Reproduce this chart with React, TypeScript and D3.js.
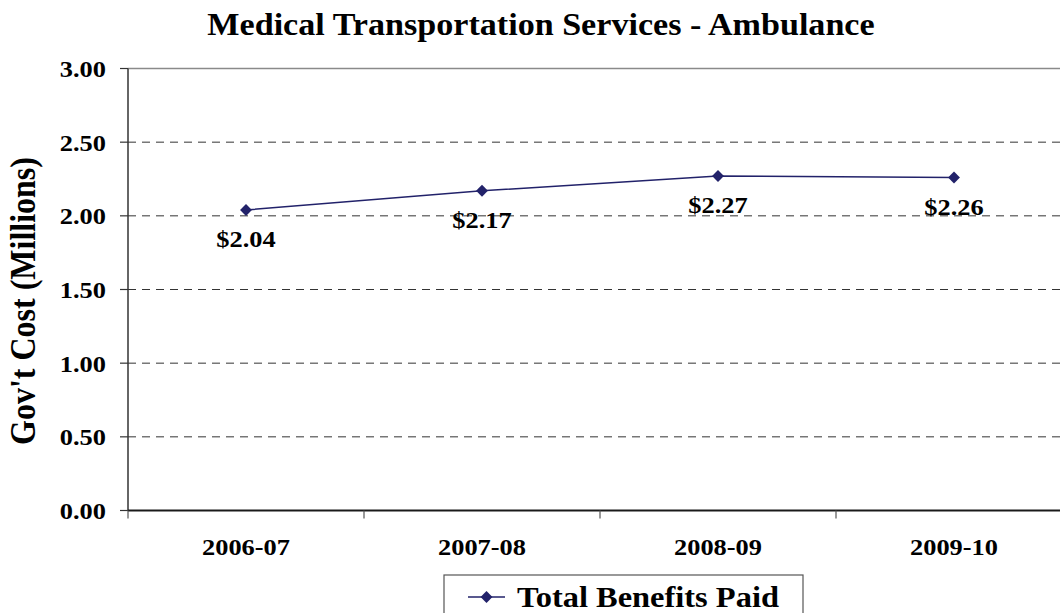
import React, { useRef, useEffect } from "react";
import * as d3 from "d3";

const categories = ["2006-07", "2007-08", "2008-09", "2009-10"];
const benefitsPaid = [2.04, 2.17, 2.27, 2.26];
const yTicks = [0, 0.5, 1, 1.5, 2, 2.5, 3];

const title = "Medical Transportation Services - Ambulance";
const yTitle = "Gov't Cost (Millions)";
const seriesName = "Total Benefits Paid";

const FONT = "'Liberation Serif', 'Times New Roman', serif";
// the original picture is stretched sideways a little
const K = 1.1;
const LINE = "#22226a";

const App = () => {
  const svgRef = useRef<SVGSVGElement>(null);

  useEffect(() => {
    if (!svgRef.current) return;
    const svg = d3.select(svgRef.current);
    svg.selectAll("*").remove();

    const left = 128;
    const top = 68.5;
    const bottom = 510.5;

    const x = d3.scaleBand().domain(categories).range([left, 1072]);
    const y = d3.scaleLinear().domain([0, 3]).range([bottom, top]);

    const text = (
      g: d3.Selection<SVGGElement, unknown, null, undefined>,
      tx: number,
      ty: number,
      str: string,
      size: number,
      anchor: string,
      rot = 0
    ) =>
      g
        .append("text")
        .attr("transform", `translate(${tx},${ty}) scale(${K},1) rotate(${rot})`)
        .attr("text-anchor", anchor)
        .style("font-family", FONT)
        .style("font-weight", "bold")
        .style("font-size", `${size}px`)
        .attr("fill", "#000")
        .text(str);

    const root = svg.append("g");

    // title
    text(root, 541, 35, title, 31, "middle");

    // gridlines
    root
      .selectAll(".grid")
      .data(yTicks.filter((t) => t > 0 && t < 3))
      .enter()
      .append("line")
      .attr("x1", left)
      .attr("x2", 1060)
      .attr("y1", (d) => y(d))
      .attr("y2", (d) => y(d))
      .attr("stroke", "#333")
      .attr("stroke-width", 1)
      .attr("stroke-dasharray", "8,6");

    // top border
    root
      .append("line")
      .attr("x1", left)
      .attr("x2", 1060)
      .attr("y1", y(3))
      .attr("y2", y(3))
      .attr("stroke", "#8a8a8a")
      .attr("stroke-width", 1.5);

    // y axis
    root
      .append("line")
      .attr("x1", left)
      .attr("x2", left)
      .attr("y1", y(3))
      .attr("y2", y(0))
      .attr("stroke", "#333")
      .attr("stroke-width", 1.5);

    yTicks.forEach((t) => {
      root
        .append("line")
        .attr("x1", left - 8)
        .attr("x2", left)
        .attr("y1", y(t))
        .attr("y2", y(t))
        .attr("stroke", "#333")
        .attr("stroke-width", 1.2);
      text(root, 106, y(t) + 8.5, d3.format(".2f")(t), 24, "end");
    });

    // x axis
    root
      .append("line")
      .attr("x1", left)
      .attr("x2", 1060)
      .attr("y1", y(0))
      .attr("y2", y(0))
      .attr("stroke", "#1a1a1a")
      .attr("stroke-width", 1.8);

    categories.forEach((c) => {
      const x0 = x(c) as number;
      root
        .append("line")
        .attr("x1", x0)
        .attr("x2", x0)
        .attr("y1", y(0))
        .attr("y2", y(0) + 8)
        .attr("stroke", "#555")
        .attr("stroke-width", 1.2);
      text(root, x0 + x.bandwidth() / 2, 554.5, c, 24, "middle");
    });

    // y axis title
    text(root, 35, 301, yTitle, 32, "middle", -90);

    // series
    const cx = (i: number) => (x(categories[i]) as number) + x.bandwidth() / 2;
    const line = d3
      .line<number>()
      .x((_, i) => cx(i))
      .y((d) => y(d));

    root
      .append("path")
      .datum(benefitsPaid)
      .attr("d", line)
      .attr("fill", "none")
      .attr("stroke", LINE)
      .attr("stroke-width", 1.5);

    const diamond = d3.symbol().type(d3.symbolDiamond2).size(90);

    benefitsPaid.forEach((v, i) => {
      root
        .append("path")
        .attr("d", diamond)
        .attr("transform", `translate(${cx(i)},${y(v)})`)
        .attr("fill", LINE);
      text(root, cx(i), y(v) + 37, d3.format("$.2f")(v), 24, "middle");
    });

    // legend
    root
      .append("rect")
      .attr("x", 444)
      .attr("y", 575)
      .attr("width", 359)
      .attr("height", 60)
      .attr("fill", "#fff")
      .attr("stroke", "#555")
      .attr("stroke-width", 1.2);
    root
      .append("line")
      .attr("x1", 468)
      .attr("x2", 505)
      .attr("y1", 597)
      .attr("y2", 597)
      .attr("stroke", LINE)
      .attr("stroke-width", 1.5);
    root
      .append("path")
      .attr("d", diamond)
      .attr("transform", "translate(486.5,597)")
      .attr("fill", LINE);
    text(root, 517, 607, seriesName, 29.5, "start");
  }, []);

  return (
    <svg
      ref={svgRef}
      width={1060}
      height={613}
      style={{ position: "absolute", left: 0, top: 0, background: "#fff" }}
    ></svg>
  );
};

export default App;
